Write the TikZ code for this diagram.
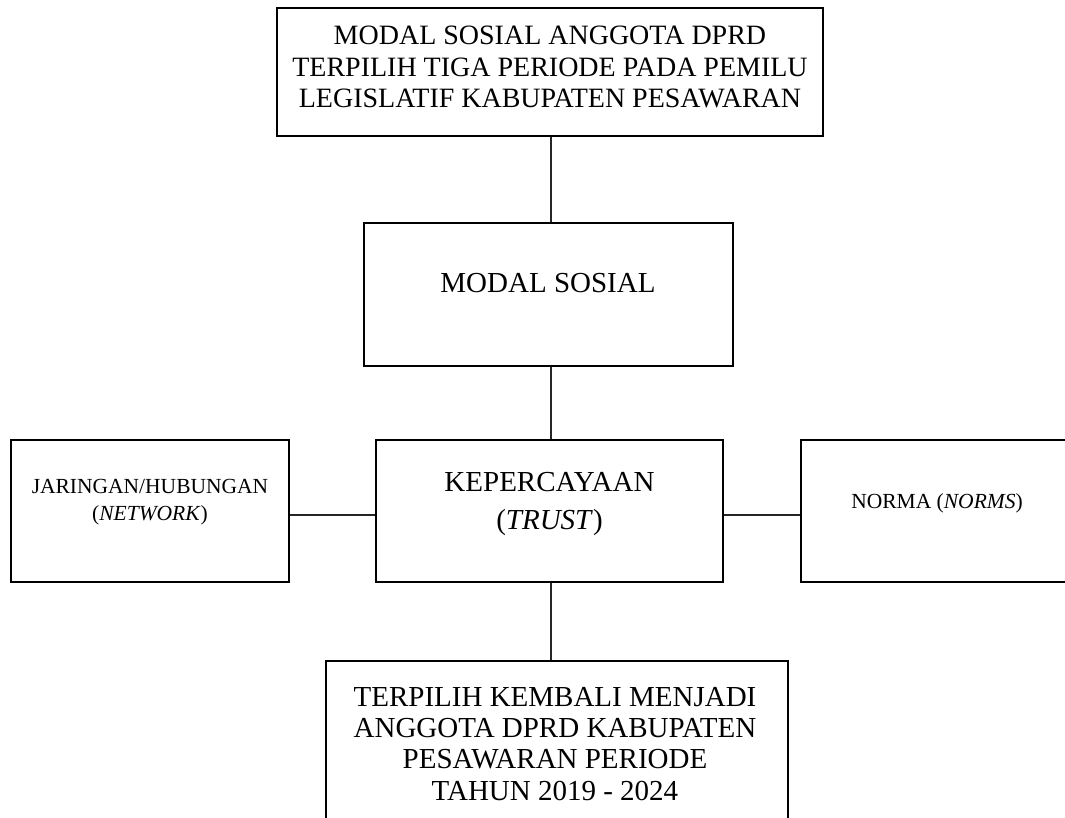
\documentclass[tikz,border=0pt]{standalone}
\usepackage{fontspec}
\setmainfont{Liberation Serif}
\begin{document}
\begin{tikzpicture}[x=1pt,y=-1pt,
  box/.style={draw=black, line width=2pt, rectangle, inner sep=0pt},
  conn/.style={draw=black!85, line width=1.3pt},
  big/.style={anchor=base, inner sep=0pt, font=\fontsize{29}{34}\selectfont},
  mid/.style={anchor=base, inner sep=0pt, font=\fontsize{28}{33}\selectfont},
  small/.style={anchor=base, inner sep=0pt, font=\fontsize{21.5}{26}\selectfont}]
\useasboundingbox (0,0) rectangle (1065,818);
\fill[white] (0,0) rectangle (1065,818);
\clip (0,0) rectangle (1065,818);
% boxes
\node[box, minimum width=546pt, minimum height=128pt] (top) at (550,72) {};
\node[box, minimum width=369pt, minimum height=143pt] (modal) at (548.5,294.5) {};
\node[box, minimum width=347pt, minimum height=142pt] (kep) at (549.5,511) {};
\node[box, minimum width=278pt, minimum height=142pt] (left) at (150,511) {};
\node[box, minimum width=284pt, minimum height=142pt] (right) at (943,511) {};
\node[box, minimum width=462pt, minimum height=179pt] (bottom) at (557,750.5) {};
% texts
\node[mid] (t1) at (550,45) {MODAL SOSIAL ANGGOTA DPRD};
\node[mid] (t2) at (550,77) {TERPILIH TIGA PERIODE PADA PEMILU};
\node[mid] (t3) at (550,108) {LEGISLATIF KABUPATEN PESAWARAN};
\node[big] (m1) at (548,293) {MODAL SOSIAL};
\node[big] (k1) at (549.5,491) {KEPERCAYAAN};
\node[big] (k2) at (549.5,529) {(\textit{TRUST})};
\node[small] (l1) at (150,493) {JARINGAN/HUBUNGAN};
\node[small] (l2) at (150,520) {(\textit{NETWORK})};
\node[small] (r1) at (937,508) {NORMA (\textit{NORMS})};
\node[big] (b1) at (555,706) {TERPILIH KEMBALI MENJADI};
\node[big] (b2) at (555,737) {ANGGOTA DPRD KABUPATEN};
\node[big] (b3) at (555,768) {PESAWARAN PERIODE};
\node[big] (b4) at (555,800) {TAHUN 2019 - 2024};
% connectors
\draw[conn] ([xshift=1pt]top.south) -- ([xshift=1pt]top.south |- modal.north);
\draw[conn] ([xshift=1pt]top.south |- modal.south) -- ([xshift=1pt]top.south |- kep.north);
\draw[conn] ([xshift=1pt]top.south |- kep.south) -- ([xshift=1pt]top.south |- bottom.north);
\draw[conn] ([yshift=-4pt]left.east) -- ([yshift=-4pt]kep.west);
\draw[conn] ([yshift=-4pt]kep.east) -- ([yshift=-4pt]right.west);
\end{tikzpicture}
\end{document}
